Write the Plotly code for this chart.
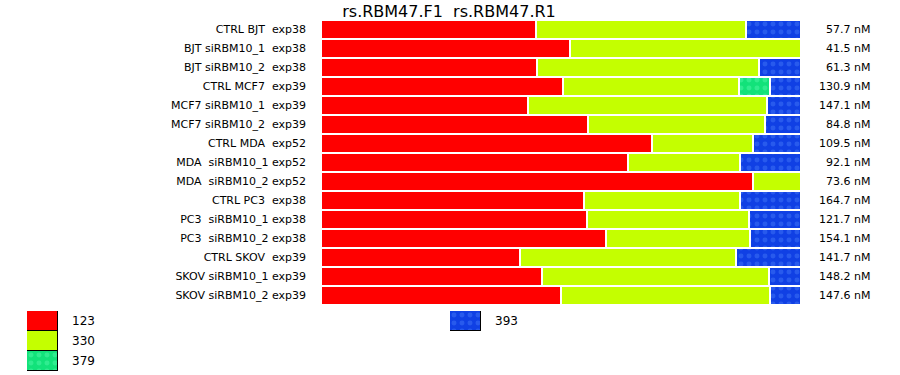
import plotly.graph_objects as go

# ---------------- data ----------------
samples = [
    "CTRL BJT\u00a0 exp38",
    "BJT siRBM10_1\u00a0 exp38",
    "BJT siRBM10_2\u00a0 exp38",
    "CTRL MCF7\u00a0 exp39",
    "MCF7 siRBM10_1\u00a0 exp39",
    "MCF7 siRBM10_2\u00a0 exp39",
    "CTRL MDA\u00a0 exp52",
    "MDA\u00a0 siRBM10_1 exp52",
    "MDA\u00a0 siRBM10_2 exp52",
    "CTRL PC3\u00a0 exp38",
    "PC3\u00a0 siRBM10_1 exp38",
    "PC3\u00a0 siRBM10_2 exp38",
    "CTRL SKOV\u00a0 exp39",
    "SKOV siRBM10_1 exp39",
    "SKOV siRBM10_2 exp39",
]
series_names = ["123", "330", "379", "393"]
share_123 = [44.8, 51.9, 45.0, 50.4, 43.1, 55.6, 69.0, 64.0, 89.9, 54.7, 55.4, 59.4, 41.5, 46.0, 50.0]
share_330 = [43.8, 48.1, 46.3, 36.7, 49.8, 36.9, 21.0, 23.3, 10.1, 32.6, 33.8, 30.0, 45.0, 47.3, 43.6]
share_379 = [None, None, None, 6.5, None, None, None, None, None, None, None, None, None, None, None]
share_393 = [11.4, None, 8.7, 6.4, 7.1, 7.5, 10.0, 12.7, None, 12.7, 10.8, 10.6, 13.5, 6.7, 6.4]
concentration_nM = [57.7, 41.5, 61.3, 130.9, 147.1, 84.8, 109.5, 92.1, 73.6, 164.7, 121.7, 154.1, 141.7, 148.2, 147.6]
title_text = "rs.RBM47.F1\u00a0 rs.RBM47.R1"

# ---------------- styles ----------------
W, H = 900, 375
FONT = "DejaVu Sans"
styles = {
    "123": dict(color="#ff0000", shape="", fg="#ff0000"),
    "330": dict(color="#c4ff00", shape="", fg="#c4ff00"),
    "379": dict(color="#12e27a", shape=".", fg="#4ef5a6"),
    "393": dict(color="#1040e4", shape=".", fg="#3f74f6"),
}

def px_x(p):
    return p / W

def px_y(p):
    return 1 - p / H

def marker_for(name, line_color, line_width):
    st = styles[name]
    m = dict(color=st["color"], line=dict(color=line_color, width=line_width))
    if st["shape"]:
        m["pattern"] = dict(shape=st["shape"], fgcolor=st["fg"], bgcolor=st["color"],
                            fillmode="overlay", size=8, solidity=0.3)
    return m

fig = go.Figure()

for name, vals in zip(series_names, [share_123, share_330, share_379, share_393]):
    fig.add_trace(go.Bar(
        y=samples, x=vals, orientation="h", name=name,
        marker=marker_for(name, "white", 2),
        showlegend=False, hoverinfo="skip",
    ))

# legend swatches drawn as bars on two small axes (column of 3, then column of 1)
legend_columns = [(series_names[:3], "x2", "y2"), (series_names[3:], "x3", "y3")]
annotations = []
for names, xa, ya in legend_columns:
    for i, n in enumerate(names):
        fig.add_trace(go.Bar(
            y=[i], x=[1], width=[1], orientation="h", xaxis=xa, yaxis=ya,
            marker=marker_for(n, "black", 1.5),
            cliponaxis=False, showlegend=False, hoverinfo="skip",
        ))
        annotations.append(dict(
            x=1, xref=xa, y=i, yref=ya, text=n, xshift=12,
            showarrow=False, xanchor="left", yanchor="middle",
            font=dict(family=FONT, size=12, color="black"),
        ))

for s, c in zip(samples, concentration_nM):
    annotations.append(dict(
        x=px_x(872), xref="paper", y=s, yref="y", text=f"{c} nM",
        showarrow=False, xanchor="right", yanchor="middle",
        font=dict(family=FONT, size=11, color="black"),
    ))

hidden = dict(showgrid=False, zeroline=False, showline=False, showticklabels=False,
              ticks="", fixedrange=True)

fig.update_layout(
    width=W, height=H,
    margin=dict(l=0, r=0, t=0, b=0),
    paper_bgcolor="white", plot_bgcolor="white",
    barmode="stack", bargap=0,
    font=dict(family=FONT, size=11, color="black"),
    title=dict(text=title_text, x=px_x(449), y=px_y(11), xanchor="center", yanchor="middle",
               xref="paper", yref="container",
               font=dict(family=FONT, size=16, color="black")),
    xaxis=dict(domain=[px_x(321), px_x(801)], range=[0, 100], **hidden),
    yaxis=dict(domain=[px_y(305), px_y(20)], autorange="reversed", type="category",
               showgrid=False, zeroline=False, showline=False, ticks="", ticklabelstandoff=14,
               tickfont=dict(family=FONT, size=11, color="black"), fixedrange=True),
    xaxis2=dict(domain=[px_x(27), px_x(58)], range=[0, 1], anchor="y2", **hidden),
    yaxis2=dict(domain=[px_y(371), px_y(311)], range=[2.5, -0.5], anchor="x2", **hidden),
    xaxis3=dict(domain=[px_x(450), px_x(481)], range=[0, 1], anchor="y3", **hidden),
    yaxis3=dict(domain=[px_y(331), px_y(311)], range=[0.5, -0.5], anchor="x3", **hidden),
    annotations=annotations,
)

fig.write_html("out.html")
